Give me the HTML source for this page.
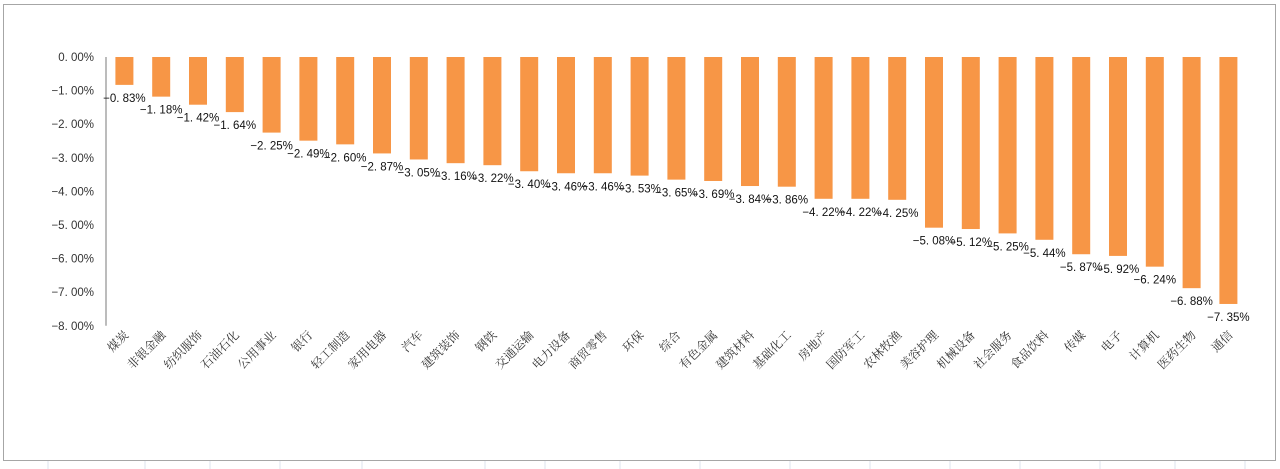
<!DOCTYPE html>
<html><head><meta charset="utf-8"><style>
body{margin:0;width:1280px;height:469px;background:#fff;overflow:hidden;font-family:"Liberation Sans","Noto Sans CJK SC",sans-serif}
</style></head><body>
<svg width="1280" height="469" id="svg" style="position:absolute;left:0;top:0">
<g id="sheet"></g>
<rect x="3.5" y="4.5" width="1272" height="456" fill="#fff" stroke="#a6a6a6"/>
<g id="plot"></g>
</svg>
<script>
const categories=["煤炭","非银金融","纺织服饰","石油石化","公用事业","银行","轻工制造","家用电器","汽车","建筑装饰","钢铁","交通运输","电力设备","商贸零售","环保","综合","有色金属","建筑材料","基础化工","房地产","国防军工","农林牧渔","美容护理","机械设备","社会服务","食品饮料","传媒","电子","计算机","医药生物","通信"];
const values=[-0.83,-1.18,-1.42,-1.64,-2.25,-2.49,-2.60,-2.87,-3.05,-3.16,-3.22,-3.40,-3.46,-3.46,-3.53,-3.65,-3.69,-3.84,-3.86,-4.22,-4.22,-4.25,-5.08,-5.12,-5.25,-5.44,-5.87,-5.92,-6.24,-6.88,-7.35];
const ticks=[0,-1,-2,-3,-4,-5,-6,-7,-8];
const NS="http://www.w3.org/2000/svg";
const plot=document.getElementById('plot'),sheet=document.getElementById('sheet');
function mk(t,a,p){const e=document.createElementNS(NS,t);for(const k in a)e.setAttribute(k,a[k]);(p||plot).appendChild(e);return e;}
function fmt(v){return (v<0?'−':'')+Math.abs(v).toFixed(2).replace('.','. ')+'%';}
[48,145,210,280,362,485,545,620,700,790,870,950,1020,1100,1175,1245].forEach(x=>{const l=mk('line',{x1:x,y1:461,x2:x,y2:469,stroke:'#dde3ee'},sheet);

});
const n=values.length;
const step=36.8,x0=106,y0=57,pxPer=33.6;
const y=v=>y0-v*pxPer;
const xc=i=>x0+step*(i+0.5);
ticks.forEach(t=>{const tx=mk('text',{x:94,y:y(t)+4,'text-anchor':'end','font-size':'11.5',fill:'#333'});tx.textContent=t===0?'0. 00%':fmt(t);

});
const ax=mk('line',{x1:x0,y1:y(0),x2:x0,y2:y(-8),stroke:'#a6a6a6','stroke-width':1.5});


values.forEach((v,i)=>{
 const r=mk('rect',{x:xc(i)-9,y:y(0),width:18,height:y(v)-y(0),fill:'#f79646'});
 
 
 const lb=mk('text',{x:xc(i),y:y(v)+17,'text-anchor':'middle','font-size':'11.5',fill:'#111'});
 lb.textContent=fmt(v);
 
 
 const c=mk('text',{x:0,y:0,'text-anchor':'end','font-size':'12',fill:'#333','font-family':'"Noto Serif CJK SC",serif',transform:`translate(${xc(i)+5},${y(-8)+10}) rotate(-45)`});
 c.textContent=categories[i];
 
 
});
</script>
</body></html>
